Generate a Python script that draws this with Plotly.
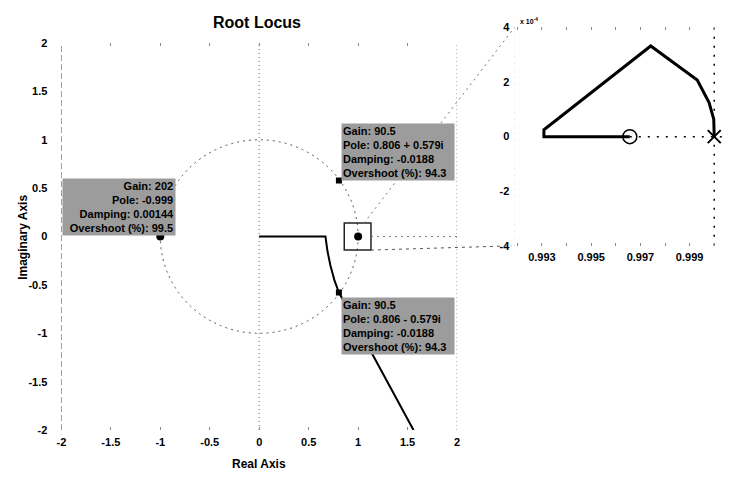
import plotly.graph_objects as go

# ---------------- data ----------------
main_tick_vals = [-2, -1.5, -1, -0.5, 0, 0.5, 1, 1.5, 2]
main_tick_text = ["-2", "-1.5", "-1", "-0.5", "0", "0.5", "1", "1.5", "2"]

locus_re = [0.0, 0.67, 0.69, 0.72, 0.76, 0.806, 1.56]
locus_im = [0.0, 0.0, -0.15, -0.30, -0.45, -0.579, -2.0]

pole_re = [-1.0, 1.0]
pole_im = [0.0, 0.0]

tip_re = [0.806, 0.806]
tip_im = [0.579, -0.579]

tip_texts = [
    "Gain: 202<br>Pole: -0.999<br>Damping: 0.00144<br>Overshoot (%): 99.5",
    "Gain: 90.5<br>Pole: 0.806 + 0.579i<br>Damping: -0.0188<br>Overshoot (%): 94.3",
    "Gain: 90.5<br>Pole: 0.806 - 0.579i<br>Damping: -0.0188<br>Overshoot (%): 94.3",
]

inset_locus_re = [0.99657, 0.99308, 0.99308, 0.99742, 0.99931, 0.99979, 0.99998, 1.0]
inset_locus_im = [0.0, 0.0, 0.25e-4, 3.32e-4, 2.07e-4, 1.25e-4, 0.64e-4, 0.0]
inset_zero = (0.99657, 0.0)
inset_pole = (1.0, 0.0)
inset_xtick_vals = [0.993, 0.995, 0.997, 0.999]
inset_xtick_text = ["0.993", "0.995", "0.997", "0.999"]
inset_ytick_vals = [-4e-4, -2e-4, 0, 2e-4, 4e-4]
inset_ytick_text = ["-4", "-2", "0", "2", "4"]

# ---------------- layout geometry ----------------
W, H = 734, 477
main_dom_x = [57 / W, 457 / W]
main_dom_y = [1 - 435 / H, 1 - 38 / H]
main_rx = [-2, 2]
main_ry = [-2, 2]
ins_dom_x = [515 / W, 727 / W]
ins_dom_y = [1 - 246 / H, 1 - 22 / H]
ins_rx = [0.99188, 1.0004]
ins_ry = [-4e-4, 4e-4]


def main_paper(x, y):
    px = main_dom_x[0] + (x - main_rx[0]) / (main_rx[1] - main_rx[0]) * (main_dom_x[1] - main_dom_x[0])
    py = main_dom_y[0] + (y - main_ry[0]) / (main_ry[1] - main_ry[0]) * (main_dom_y[1] - main_dom_y[0])
    return px, py


FONT = "Liberation Sans"
DOT = "2px,4px"

fig = go.Figure()

# main locus
fig.add_trace(go.Scatter(x=locus_re, y=locus_im, mode="lines",
                         line=dict(color="black", width=2), xaxis="x", yaxis="y",
                         hoverinfo="skip", showlegend=False))
fig.add_trace(go.Scatter(x=pole_re, y=pole_im, mode="markers",
                         marker=dict(color="black", size=8, symbol="circle"),
                         xaxis="x", yaxis="y", showlegend=False))
fig.add_trace(go.Scatter(x=tip_re, y=tip_im, mode="markers",
                         marker=dict(color="black", size=6, symbol="square"),
                         xaxis="x", yaxis="y", showlegend=False))

# inset locus
fig.add_trace(go.Scatter(x=[inset_zero[0], ins_rx[1]], y=[0, 0], mode="lines",
                         line=dict(color="black", width=1.5, dash="2px,7px"),
                         xaxis="x2", yaxis="y2", showlegend=False))
fig.add_trace(go.Scatter(x=[1.0, 1.0], y=ins_ry, mode="lines",
                         line=dict(color="black", width=1.5, dash="2px,7px"),
                         xaxis="x2", yaxis="y2", showlegend=False))
fig.add_trace(go.Scatter(x=inset_locus_re, y=inset_locus_im, mode="lines",
                         line=dict(color="black", width=3),
                         xaxis="x2", yaxis="y2", showlegend=False))
fig.add_trace(go.Scatter(x=[inset_zero[0]], y=[inset_zero[1]], mode="markers",
                         marker=dict(color="black", size=14, symbol="circle-open",
                                     line=dict(color="black", width=1.5)),
                         xaxis="x2", yaxis="y2", showlegend=False))
fig.add_trace(go.Scatter(x=[inset_pole[0]], y=[inset_pole[1]], mode="markers",
                         marker=dict(color="black", size=13, symbol="x-thin-open",
                                     line=dict(color="black", width=2)),
                         xaxis="x2", yaxis="y2", showlegend=False))

shapes = []
# unit circle
shapes.append(dict(type="circle", xref="x", yref="y", x0=-1, y0=-1, x1=1, y1=1,
                   line=dict(color="#555", width=1, dash=DOT), layer="below"))
# imaginary axis
shapes.append(dict(type="line", xref="x", yref="y", x0=0, x1=0, y0=-2, y1=2,
                   line=dict(color="#666", width=1, dash="1px,3px"), layer="below"))
# borders
shapes.append(dict(type="line", xref="x", yref="y", x0=-2, x1=-2, y0=-2, y1=2,
                   line=dict(color="#555", width=1, dash="6px,3px"), layer="below"))
shapes.append(dict(type="line", xref="x", yref="y", x0=2, x1=2, y0=-2, y1=2,
                   line=dict(color="#666", width=1, dash="1px,3px"), layer="below"))
shapes.append(dict(type="line", xref="x2", yref="y2", x0=ins_rx[0], x1=ins_rx[0],
                   y0=ins_ry[0], y1=ins_ry[1],
                   line=dict(color="#bbb", width=1, dash="1px,6px"), layer="below"))
# zoom box
shapes.append(dict(type="rect", xref="x", yref="y", x0=0.86, x1=1.13, y0=-0.14, y1=0.14,
                   line=dict(color="#222", width=1.5)))
# connector lines
bx0, by0 = main_paper(1.06, 0.14)
shapes.append(dict(type="line", xref="paper", yref="paper", x0=bx0, y0=by0,
                   x1=ins_dom_x[0], y1=ins_dom_y[1],
                   line=dict(color="#777", width=1, dash=DOT)))
bx1, by1 = main_paper(1.13, -0.14)
shapes.append(dict(type="line", xref="paper", yref="paper", x0=bx1, y0=by1,
                   x1=ins_dom_x[0] - 0.004, y1=ins_dom_y[0],
                   line=dict(color="#555", width=1, dash="3px,4px")))
shapes.append(dict(type="line", xref="x", yref="y", x0=1.13, y0=0, x1=2, y1=0,
                   line=dict(color="#777", width=1, dash=DOT)))

annotations = []
# data tips
tip_pos = [
    dict(x=-0.84, y=0.61, xanchor="right", align="right"),
    dict(x=0.83, y=1.17, xanchor="left", align="left"),
    dict(x=0.83, y=-0.62, xanchor="left", align="left"),
]
for txt, p in zip(tip_texts, tip_pos):
    annotations.append(dict(xref="x", yref="y", x=p["x"], y=p["y"], xanchor=p["xanchor"],
                            yanchor="top", text=txt, align=p["align"], showarrow=False,
                            bgcolor="#9c9c9c", borderpad=1, width=110, height=54,
                            font=dict(family=FONT, size=11, color="black", weight="bold")))
# axis titles
annotations.append(dict(xref="paper", yref="paper", x=257 / W, y=1 - 470 / H,
                        text="Real Axis", showarrow=False, xanchor="center", yanchor="middle",
                        font=dict(family=FONT, size=12, color="black", weight="bold")))
annotations.append(dict(xref="paper", yref="paper", x=18 / W, y=1 - 237 / H,
                        text="Imaginary Axis", showarrow=False, textangle=-90,
                        xanchor="center", yanchor="middle",
                        font=dict(family=FONT, size=12, color="black", weight="bold")))
annotations.append(dict(xref="paper", yref="paper", x=519 / W, y=1 - 15 / H,
                        text="x 10<sup>-4</sup>", showarrow=False, xanchor="left",
                        yanchor="middle",
                        font=dict(family=FONT, size=7, color="black", weight="bold")))

tickfont = dict(family=FONT, size=11, color="black", weight="bold")

fig.update_layout(
    width=W, height=H,
    margin=dict(l=0, r=0, t=0, b=0),
    paper_bgcolor="white", plot_bgcolor="white",
    showlegend=False,
    title=dict(text="Root Locus", x=257 / W, xanchor="center", y=1 - 22 / H, yanchor="middle",
               font=dict(family=FONT, size=16, color="black", weight="bold")),
    xaxis=dict(domain=main_dom_x, range=main_rx, anchor="y", tickvals=main_tick_vals,
               ticktext=main_tick_text, showgrid=False, zeroline=False, showline=False,
               ticks="inside", ticklen=3, tickcolor="#888", mirror="ticks",
               tickfont=tickfont, ticklabelstandoff=4),
    yaxis=dict(domain=main_dom_y, range=main_ry, anchor="x", tickvals=main_tick_vals,
               ticktext=main_tick_text, showgrid=False, zeroline=False, showline=False,
               ticks="", tickfont=tickfont, ticklabelstandoff=13),
    xaxis2=dict(domain=ins_dom_x, range=ins_rx, anchor="y2", tickvals=inset_xtick_vals,
                ticktext=inset_xtick_text, showgrid=False, zeroline=False, showline=False,
                ticks="inside", ticklen=3, tickcolor="#888", mirror="ticks",
                minor=dict(ticks="inside", dtick=0.001, tick0=0.993, ticklen=3,
                           tickcolor="#888"),
                tickfont=tickfont, ticklabelstandoff=3),
    yaxis2=dict(domain=ins_dom_y, range=ins_ry, anchor="x2", tickvals=inset_ytick_vals,
                ticktext=inset_ytick_text, showgrid=False, zeroline=False, showline=False,
                ticks="", tickfont=tickfont, ticklabelstandoff=4),
    shapes=shapes,
    annotations=annotations,
)

fig.write_html("out.html")
